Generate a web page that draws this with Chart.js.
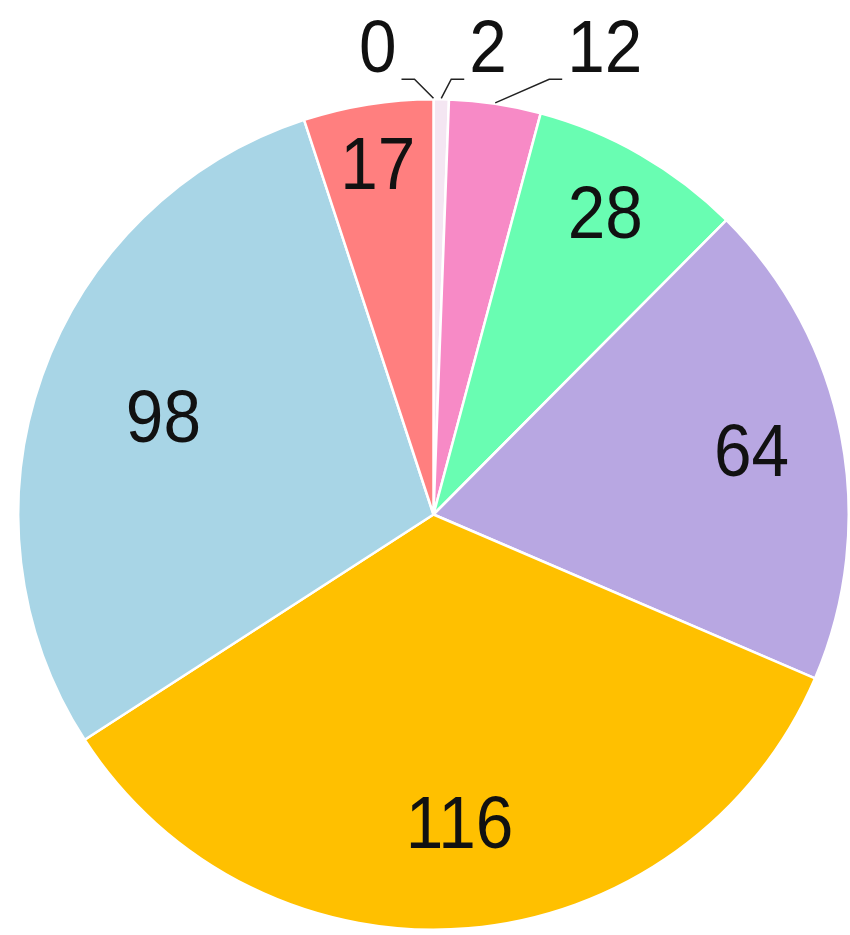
<!DOCTYPE html>
<html>
<head>
<meta charset="utf-8">
<script src="https://cdn.jsdelivr.net/npm/chart.js@4.4.0/dist/chart.umd.min.js"></script>
<style>
  html, body { margin: 0; padding: 0; background: #ffffff; }
  #wrap { position: relative; width: 850px; height: 935px; }
</style>
</head>
<body>
<div id="wrap"><canvas id="chart"></canvas></div>
<script>
// Slice data, clockwise from 12 o'clock
const categories = ['区分1', '区分2', '区分3', '区分4', '区分5', '区分6', '区分7', '区分8'];
const values = [0, 2, 12, 28, 64, 116, 98, 17];
const sliceColors = ['#f6e9f4', '#f4e6f2', '#f78ac6', '#69fdb2', '#b8a7e2', '#ffc000', '#a8d5e6', '#ff7f7f'];

const labelFont = "75px 'Liberation Sans', Arial, sans-serif";
const squeeze = 0.9; // slightly narrow digits, like the original

// Small slices get their label outside, with a leader line (elbow offset in px)
const outsideLeader = { 0: -19, 1: 10, 2: 54 };
// label distance from centre, as a fraction of the radius
const labelRadius = { 3: 0.83, 4: 0.78, 5: 0.75, 6: 0.69, 7: 0.85 };

function drawText(ctx, text, x, y, align) {
    ctx.save();
    ctx.translate(x, y);
    ctx.scale(squeeze, 1);
    ctx.textAlign = align;
    ctx.fillText(text, 0, 0);
    ctx.restore();
}

const sliceLabels = {
    id: 'sliceLabels',
    afterDatasetsDraw(chart) {
        const ctx = chart.ctx;
        const meta = chart.getDatasetMeta(0);
        ctx.save();
        ctx.font = labelFont;
        ctx.fillStyle = '#111111';
        ctx.strokeStyle = '#222222';
        ctx.lineWidth = 1.5;
        meta.data.forEach((arc, i) => {
            const p = arc.getProps(['x', 'y', 'startAngle', 'endAngle', 'outerRadius'], true);
            const mid = (p.startAngle + p.endAngle) / 2;
            const text = String(values[i]);
            if (i in outsideLeader) {
                const ax = p.x + Math.cos(mid) * p.outerRadius;
                const ay = p.y + Math.sin(mid) * p.outerRadius;
                const dx = outsideLeader[i];
                const dir = dx < 0 ? -1 : 1;
                const ey = p.y - p.outerRadius - 20;
                const ex = ax + dx;
                const endX = ex + dir * 13;
                ctx.beginPath();
                ctx.moveTo(ax, ay - 1);
                ctx.lineTo(ex, ey);
                ctx.lineTo(endX, ey);
                ctx.stroke();
                ctx.textBaseline = 'alphabetic';
                drawText(ctx, text, endX + dir * 5, ey - 7, dir < 0 ? 'right' : 'left');
            } else {
                const frac = labelRadius[i] || 0.76;
                const tx = p.x + Math.cos(mid) * p.outerRadius * frac;
                const ty = p.y + Math.sin(mid) * p.outerRadius * frac;
                ctx.textBaseline = 'middle';
                drawText(ctx, text, tx, ty + 2, 'center');
            }
        });
        ctx.restore();
    }
};

new Chart(document.getElementById('chart'), {
    type: 'pie',
    data: {
        labels: categories,
        datasets: [{
            data: values,
            backgroundColor: sliceColors,
            borderColor: '#ffffff',
            borderWidth: 2.5
        }]
    },
    options: {
        responsive: true,
        maintainAspectRatio: false,
        animation: false,
        layout: { padding: { left: 17, right: 0, top: 98, bottom: 4 } },
        plugins: {
            legend: { display: false },
            tooltip: { enabled: false }
        }
    },
    plugins: [sliceLabels]
});
</script>
</body>
</html>
